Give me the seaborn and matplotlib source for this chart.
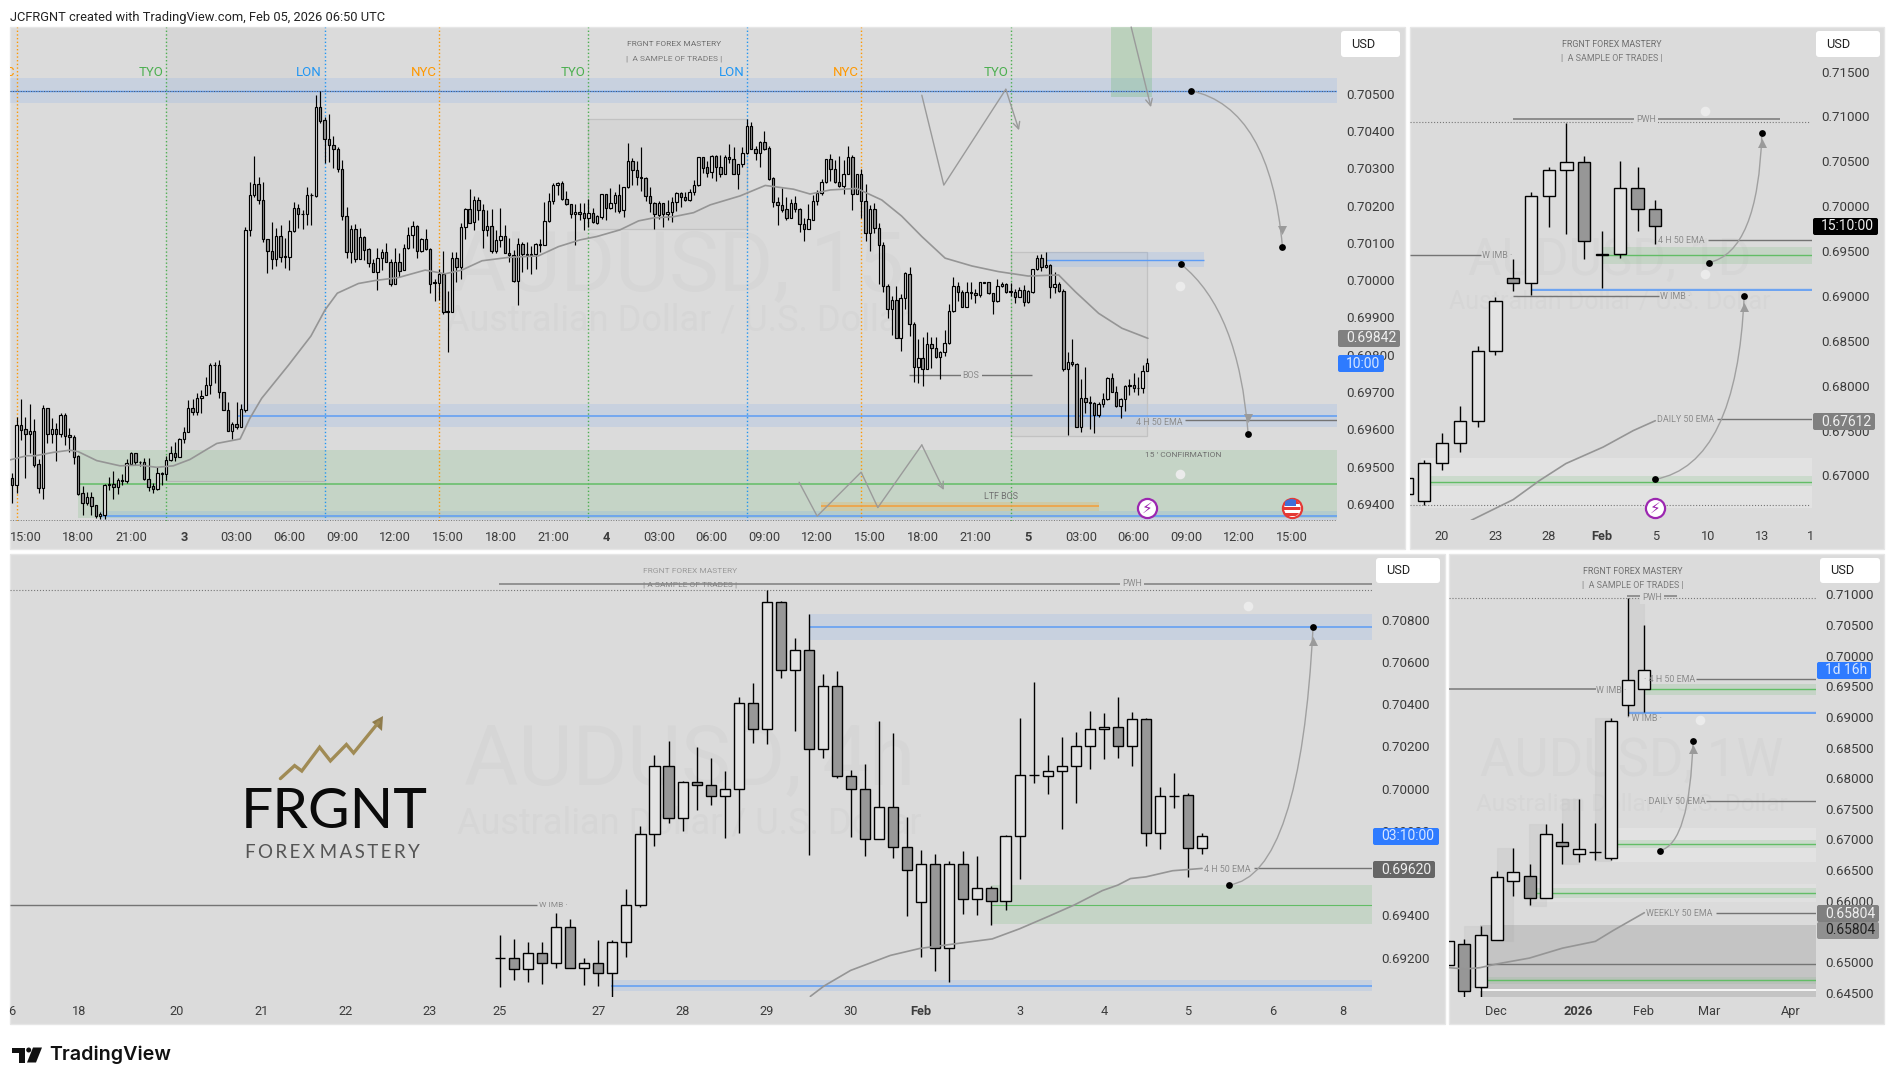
import numpy as np
import matplotlib
matplotlib.use("Agg")
import matplotlib.pyplot as plt
import seaborn as sns
from matplotlib.patches import Rectangle, FancyBboxPatch, PathPatch, Polygon, Circle
from matplotlib.path import Path

# all prices are in pipettes (0.69469 -> 69469), the axes run in that unit

# --- 15 min panel ---
a_open = [
    69469,69451,69612,69600,69587,69595,69507,69443,69656,69587,69600,69587,69638,69584,69578,69528,69428,69403,69418,69396,
    69368,69371,69450,69452,69446,69464,69462,69507,69536,69513,69511,69466,69448,69439,69482,69479,69517,69536,69527,69573,
    69592,69656,69647,69683,69691,69718,69772,69773,69699,69651,69595,69613,69607,69652,70134,70228,70257,70214,70110,70079,
    70056,70118,70065,70061,70131,70193,70177,70178,70228,70226,70464,70429,70378,70362,70351,70297,70173,70075,70137,70058,
    70115,70083,70045,70021,70060,70075,70050,69991,70050,70026,70085,70120,70144,70079,70110,70083,69996,69993,70016,69917,
    69915,70059,70034,70142,70190,70155,70214,70187,70134,70144,70079,70107,70118,70074,70067,69997,70096,70070,70068,70069,
    70096,70093,70158,70211,70254,70260,70217,70203,70177,70184,70179,70166,70179,70154,70170,70230,70193,70206,70228,70187,
    70249,70319,70295,70278,70273,70227,70208,70176,70206,70177,70182,70209,70233,70222,70216,70236,70254,70329,70303,70289,
    70332,70303,70286,70329,70324,70286,70312,70340,70413,70353,70342,70370,70354,70273,70209,70202,70190,70168,70206,70190,
    70150,70138,70161,70211,70233,70262,70324,70297,70264,70253,70286,70329,70232,70284,70213,70127,70190,70139,70093,69983,
    69922,69947,69844,69951,70016,69882,69766,69790,69763,69828,69817,69795,69808,69831,69916,69983,69968,69929,69968,69965,
    69959,69994,69994,69965,69943,69983,69989,69970,69968,69956,69973,69942,69969,70029,70059,70034,70040,69981,69991,69970,
    69763,69781,69774,69607,69683,69674,69671,69639,69667,69680,69738,69701,69663,69680,69716,69718,69710,69710,69755]
a_close = [
    69451,69612,69598,69587,69595,69504,69443,69656,69587,69600,69587,69638,69583,69578,69527,69427,69403,69418,69395,69368,
    69372,69450,69452,69446,69464,69462,69509,69536,69511,69511,69466,69446,69439,69482,69479,69517,69536,69527,69573,69592,
    69656,69647,69683,69690,69718,69772,69773,69699,69651,69595,69613,69607,69654,70134,70228,70257,70214,70110,70079,70056,
    70118,70063,70063,70131,70193,70177,70178,70228,70229,70464,70428,70378,70362,70351,70297,70173,70075,70137,70058,70115,
    70082,70045,70021,70060,70075,70050,69991,70050,70025,70085,70120,70144,70079,70110,70083,69991,69993,70016,69915,69915,
    70059,70034,70142,70190,70154,70214,70187,70134,70144,70079,70107,70118,70074,70067,69997,70096,70069,70068,70070,70096,
    70093,70158,70211,70254,70260,70217,70203,70177,70184,70178,70166,70179,70155,70171,70230,70193,70206,70228,70186,70249,
    70319,70295,70278,70273,70227,70208,70177,70206,70177,70182,70209,70233,70222,70216,70236,70254,70329,70302,70288,70332,
    70303,70286,70329,70324,70286,70312,70340,70413,70353,70342,70371,70353,70271,70209,70202,70189,70168,70206,70190,70150,
    70138,70163,70212,70233,70262,70324,70297,70263,70253,70286,70329,70232,70284,70213,70127,70190,70139,70093,69983,69922,
    69947,69844,69951,70018,69882,69766,69790,69763,69828,69817,69795,69808,69831,69916,69983,69968,69929,69968,69966,69959,
    69994,69993,69965,69943,69983,69989,69969,69968,69956,69974,69942,69971,70029,70059,70034,70040,69981,69991,69970,69763,
    69781,69774,69607,69683,69672,69671,69639,69668,69680,69738,69701,69663,69681,69716,69718,69710,69712,69755,69777]
a_high = [
    69482,69634,69681,69634,69668,69628,69520,69665,69656,69629,69616,69643,69643,69603,69584,69531,69448,69433,69433,69396,
    69379,69452,69471,69488,69469,69480,69520,69538,69536,69516,69522,69522,69457,69498,69486,69528,69555,69565,69576,69607,
    69679,69680,69698,69706,69741,69777,69781,69786,69701,69672,69620,69672,69667,70142,70262,70333,70276,70262,70110,70156,
    70141,70148,70114,70160,70210,70204,70188,70249,70233,70497,70507,70438,70446,70387,70358,70321,70195,70148,70151,70140,
    70118,70085,70058,70085,70084,70099,70057,70085,70072,70097,70142,70159,70148,70112,70136,70085,70003,70030,70078,69971,
    70075,70075,70152,70193,70244,70226,70224,70204,70188,70191,70135,70194,70148,70112,70081,70112,70101,70101,70092,70099,
    70110,70210,70234,70260,70262,70266,70239,70204,70204,70208,70206,70219,70193,70175,70231,70230,70246,70237,70257,70251,
    70367,70327,70320,70356,70278,70251,70210,70213,70206,70215,70224,70236,70237,70237,70244,70269,70331,70331,70320,70335,
    70336,70336,70336,70364,70356,70312,70356,70431,70423,70360,70373,70399,70360,70276,70224,70246,70224,70217,70226,70193,
    70166,70203,70228,70242,70270,70325,70338,70322,70333,70322,70360,70336,70284,70297,70257,70202,70206,70152,70101,69989,
    69958,69985,69963,70023,70034,69889,69841,69848,69860,69847,69848,69811,69866,69936,70008,69996,69974,69995,69994,69976,
    69994,69996,69996,69966,70003,69996,69993,69993,69975,69981,69987,69974,70031,70067,70070,70075,70043,70023,69995,69977,
    69808,69841,69777,69734,69766,69689,69674,69674,69698,69739,69750,69716,69683,69719,69734,69750,69739,69772,69790]
a_low = [
    69401,69428,69570,69469,69536,69500,69430,69414,69564,69564,69515,69580,69558,69540,69507,69424,69370,69396,69370,69361,
    69359,69359,69437,69413,69426,69451,69457,69504,69504,69502,69464,69435,69430,69437,69451,69464,69516,69516,69527,69564,
    69592,69638,69638,69643,69691,69695,69723,69685,69651,69595,69573,69600,69607,69647,70119,70224,70204,70101,70020,70031,
    70039,70050,70033,70027,70130,70141,70136,70149,70149,70224,70421,70315,70316,70300,70291,70160,70059,70047,70050,70058,
    70054,70036,70021,69974,70027,70048,69983,69991,70009,70026,70084,70087,70060,70076,70081,69966,69945,69947,69909,69808,
    69915,69996,70003,70110,70152,70135,70160,70087,70119,70072,70072,70090,70072,70050,69996,69933,70023,70030,70017,70030,
    70076,70093,70157,70204,70228,70215,70202,70168,70095,70160,70135,70142,70154,70151,70164,70161,70191,70184,70181,70170,
    70248,70255,70255,70240,70213,70184,70137,70163,70143,70161,70156,70186,70195,70213,70213,70229,70253,70288,70276,70274,
    70267,70278,70285,70315,70286,70244,70304,70338,70353,70322,70303,70349,70269,70197,70148,70184,70160,70168,70184,70130,
    70106,70137,70160,70202,70228,70260,70267,70261,70249,70231,70285,70188,70232,70166,70106,70079,70126,69990,69969,69898,
    69853,69844,69811,69923,69851,69727,69725,69717,69761,69765,69792,69736,69797,69829,69914,69945,69929,69929,69949,69938,
    69956,69993,69963,69909,69941,69982,69966,69957,69938,69954,69931,69938,69966,70027,70025,70033,69952,69966,69968,69757,
    69585,69770,69607,69594,69645,69600,69589,69634,69661,69679,69701,69661,69631,69650,69691,69701,69691,69698,69755]
a_ema_x = [-0.5,3.3,5.2,9.3,13.1,15,19.2,24.5,29,32.8,36.6,40.4,44.2,46.5,51.8,54,56.7,62.8,
           64.3,67.9,71.1,73.9,78.7,82.5,87.8,93.9,98.4,102.2,106.8,112.8,119.6,124.2,129.1,
           132.9,138.2,142.4,145.8,150.3,154.9,158.7,165.5,171.2,177.6,181.4,186,192,
           197.7,202.2,206.8,212.1,218.2,224.2,231,237.9,241.7,247,252.3,258.2]
a_ema_y = [69518,69529,69529,69538,69544,69540,69516,69502,69504,69498,69502,69519,69546,69562,69574,69629,69683,69772,
           69795,69850,69920,69965,69991,69999,70007,70027,70017,70027,70052,70061,70065,70090,70108,
           70117,70135,70159,70167,70170,70181,70202,70226,70254,70244,70231,70242,70246,
           70215,70172,70117,70059,70038,70023,70011,70014,69969,69911,69871,69844]
a_yticks = [70500,70400,70300,70200,70100,70000,69900,69800,69700,69600,69500,69400]
a_xticks = [3,15,27,39,51,63,75,87,99,111,123,135,147,159,171,183,195,207,219,231,243,255,267,279,291]
a_xlabels = ["15:00","18:00","21:00","3","03:00","06:00","09:00","12:00","15:00","18:00","21:00","4",
             "03:00","06:00","09:00","12:00","15:00","18:00","21:00","5","03:00","06:00","09:00","12:00","15:00"]
session_x = [1,35,71,97,131,167,193,227]
session_names = ["C","TYO","LON","NYC","TYO","LON","NYC","TYO"]
session_kinds = ["NYC","TYO","LON","NYC","TYO","LON","NYC","TYO"]

# --- daily panel ---
d_x = [-1,0,1,2,3,4,5,6,7,8,9,10,11,12,13]
d_open = [66797,66715,67137,67360,67606,68383,69196,69141,70110,70399,70488,69469,69465,70199,69965]
d_high = [66977,67172,67477,67778,68442,68985,69414,70157,70434,70930,70555,69719,70500,70434,70071]
d_low = [66797,66672,67063,67266,67543,68344,69055,69016,69770,69692,69407,69094,69422,69719,69582]
d_close = [66977,67137,67360,67606,68383,68942,69141,70110,70399,70488,69610,69461,70199,69965,69778]
d_ema_x = [2.63,5,6.5,7.97,10.07,11.76,13]
d_ema_y = [66500,66731,66946,67133,67317,67500,67610]
d_yticks = [71500,71000,70500,70000,69500,69000,68500,68000,67500,67000]
d_xticks = [1,4,7,10,13,16,19]
d_xlabels = ["20","23","28","Feb","5","10","13"]

# --- 4 hour panel ---
h_open = [69196,69196,69144,69220,69173,69343,69149,69173,69129,69272,69448,69784,70105,69860,70030,70018,69963,
          70000,70404,70280,70883,70560,70655,70186,70484,70059,69997,69760,69912,69722,69461,69642,69247,69642,
          69475,69527,69466,69774,70063,70059,70081,70105,70201,70280,70290,70204,70328,69789,69966,69968,69718]
h_high = [69307,69288,69272,69272,69409,69381,69196,69283,69283,69524,69821,70159,70225,70034,70198,70144,70083,
          70434,70500,70941,70888,70713,70826,70542,70556,70088,70117,70319,70264,69865,69708,69689,69659,69703,
          69680,69538,69781,70335,70505,70159,70244,70269,70367,70358,70434,70362,70333,70007,70073,69978,69790]
h_low = [69061,69095,69086,69076,69150,69149,69071,69066,69015,69204,69438,69726,69837,69800,69900,69920,69768,
         69792,70217,70212,70524,70275,69687,70146,70052,69773,69682,69760,69672,69398,69204,69137,69086,69407,
         69401,69356,69427,69574,70028,69976,69810,69933,70094,70138,70144,70109,69726,69716,69910,69583,69692]
h_close = [69196,69144,69220,69173,69343,69149,69173,69129,69272,69448,69784,70105,69860,70030,70018,69963,70000,
           70404,70280,70883,70560,70655,70186,70484,70059,69997,69760,69912,69722,69613,69642,69247,69642,69475,
           69527,69466,69774,70063,70063,70081,70105,70201,70280,70290,70204,70328,69789,69963,69963,69718,69774]
h_ema_x = [22.1,23.07,24.97,27.8,29.9,35.05,37,39.1,40.9,42.9,44,44.9,46,47.9,50]
h_ema_y = [69016,69065,69139,69210,69243,69288,69336,69396,69449,69517,69543,69574,69582,69611,69622]
h_yticks = [70800,70600,70400,70200,70000,69800,69600,69400,69200]
h_xticks = [-30,-23,-17,-11,-5,0,7,13,19,25,30,37,43,49,55,60]
h_xlabels = ["18","20","21","22","23","25","27","28","29","30","Feb","3","4","5","6","8"]

# --- weekly panel ---
w_open = [64945,65285,64594,65352,66316,66399,66037,66950,66756,66789,66700,69190,69451]
w_high = [65335,65374,65586,66483,66861,66600,67251,67268,67658,67268,68984,70944,70499]
w_low = [64945,64433,64433,65352,66076,65931,66037,66600,66633,66666,66666,69011,69078]
w_close = [65335,64517,65447,66382,66472,66037,67084,66900,66839,66789,68928,69596,69758]
w_ema_x = [0.06,1.04,1.96,3.02,4.98,7,9.02,10.12,12.02]
w_ema_y = [64906,64884,64906,64968,65062,65224,65335,65514,65803]
w_yticks = [71000,70500,70000,69500,69000,68500,68000,67500,67000,66500,66000,65000,64500]
w_xticks = [2.96,7.98,11.98,16,21]
w_xlabels = ["Dec","2026","Feb","Mar","Apr"]
# ghost boxes behind the weekly candles: left, right, top, bottom
ghost_left = [1,3.02,4.98,7,9.02,11.04]
ghost_right = [1.98,4,6.02,8.04,10,12.02]
ghost_top = [65580,66856,67246,67658,68978,70944]
ghost_bottom = [64594,65335,65920,66594,66655,69050]

BG = "#DBDBDB"
UP = "#E3E3E3"
DOWN = "#979797"
BLUE = "#3F8CFF"
BLUE_LINE = "#5C9CF5"
GREEN = "#4CAF50"
GREEN_LINE = "#62BD66"
NOTE = "#8C8C8C"
LINE = "#747474"
W, H = 1894, 1085

sns.set_theme(style="white", rc={"axes.grid": False, "axes.facecolor": "none"})
plt.rcParams["font.family"] = ["Roboto", "DejaVu Sans"]

fig = plt.figure(figsize=(W / 100, H / 100), dpi=100, facecolor="white")


def make_page(zorder):
    ax = fig.add_axes([0, 0, 1, 1], zorder=zorder)
    ax.set_xlim(0, W)
    ax.set_ylim(H, 0)
    ax.axis("off")
    return ax


page = make_page(0)
over = make_page(5)


def make_panel(box, plot, xlim, ylim, yticks, xticks, xlabels, bold, pad_x=7):
    page.add_patch(Rectangle((box[0], box[1]), box[2] - box[0], box[3] - box[1], fc=BG, ec="#E6E6E6", lw=1))
    ax = fig.add_axes([plot[0] / W, 1 - plot[3] / H, (plot[2] - plot[0]) / W, (plot[3] - plot[1]) / H], zorder=2)
    ax.set_xlim(*xlim)
    ax.set_ylim(*ylim)
    ax.yaxis.tick_right()
    ax.set_yticks(yticks)
    ax.set_yticklabels([f"{t / 1e5:.5f}" for t in yticks])
    ax.set_xticks(xticks)
    ax.set_xticklabels(xlabels)
    ax.tick_params(axis="y", length=0, pad=6.5, labelsize=9.6, labelcolor="#3C3C3C")
    ax.tick_params(axis="x", length=0, pad=pad_x, labelsize=9.2, labelcolor="#3C3C3C")
    for lab in ax.get_xticklabels():
        if lab.get_text() in bold:
            lab.set_fontweight("bold")
    for s in ax.spines.values():
        s.set_visible(False)
    return ax


def candles(ax, x, o, h, l, c, width, lw=1.0):
    x, o, h, l, c = map(np.asarray, (x, o, h, l, c))
    ax.vlines(x, l, h, color="black", lw=lw, zorder=4)
    colors = np.where(c >= o, UP, DOWN)
    ax.bar(x, np.abs(c - o), bottom=np.minimum(o, c), width=width, color=colors, edgecolor="black", linewidth=lw, zorder=5)


def ema(ax, x, y):
    sns.lineplot(x=x, y=y, ax=ax, color="#959595", lw=1.2, sort=False, errorbar=None, legend=False, zorder=6)


def zone(ax, x0, x1, p0, p1, color, alpha):
    ax.add_patch(Rectangle((x0, p0), x1 - x0, p1 - p0, fc=color, ec="none", alpha=alpha, zorder=1))


def level(ax, x0, x1, p, color=LINE, lw=1.0, ls="-"):
    ax.hlines(p, x0, x1, color=color, lw=lw, ls=ls, zorder=3)


def note(ax, x, p, text, color=NOTE, size=6.4, box=False):
    kw = {"bbox": dict(fc=BG, ec="none", pad=1.5)} if box else {}
    ax.text(x, p, text, color=color, fontsize=size, ha="center", va="center", zorder=7, **kw)


def mark(ax, x, p):
    ax.scatter([x], [p], s=24, color="black", zorder=9, linewidths=0)


def arc(ax, start, ctrl, end, head):
    path = Path([start, ctrl, end], [Path.MOVETO, Path.CURVE3, Path.CURVE3])
    ax.add_patch(PathPatch(path, fc="none", ec="#A0A0A0", lw=1.0, zorder=7))
    ax.scatter([end[0]], [head], s=42, marker="v" if head > end[1] else "^", color="#9A9A9A", linewidths=0, zorder=8)
    mark(ax, *start)
    mark(ax, *end)


def clock(ax, x, p):
    ax.scatter([x], [p], s=48, color="#EBEBEB", linewidths=0, zorder=7)


def bolt(ax, x, p):
    ax.scatter([x], [p], s=190, color="white", edgecolor="#9C27B0", linewidths=1.6, zorder=9)
    ax.text(x, p, "\u26a1", family="DejaVu Sans", color="#9C27B0", fontsize=11, ha="center", va="center", zorder=10)


def zigzag(ax, xs, ps):
    ax.plot(xs[:-1], ps[:-1], color="#9A9A9A", lw=1.0, zorder=6)
    ax.annotate("", xy=(xs[-1], ps[-1]), xytext=(xs[-2], ps[-2]), zorder=6,
                arrowprops=dict(arrowstyle="->", color="#9A9A9A", lw=1.0, shrinkA=0, shrinkB=0))


def watermark(ax, x, p1, p2, title, size1=60, size2=25):
    ax.text(x, p1, title, color="#D6D6D6", fontsize=size1, ha="center", va="center", zorder=0, clip_on=True)
    ax.text(x, p2, "Australian Dollar / U.S. Dollar", color="#D6D6D6", fontsize=size2, ha="center", va="center", zorder=0, clip_on=True)


def tag(x0, y0, x1, y1, color, text, tcolor):
    over.add_patch(FancyBboxPatch((x0 + 2, y0 + 2), x1 - x0 - 4, y1 - y0 - 4, boxstyle="round,pad=2", fc=color, ec="none"))
    over.text(x0 + 8, (y0 + y1) / 2, text, color=tcolor, fontsize=10, va="center", ha="left")


def usd(x0, y0, x1, y1):
    over.add_patch(FancyBboxPatch((x0 + 3, y0 + 3), x1 - x0 - 6, y1 - y0 - 6, boxstyle="round,pad=3", fc="white", ec="none"))
    over.text(x0 + 10, (y0 + y1) / 2, "USD", color="#222222", fontsize=9.2, va="center", ha="left")


# page furniture
page.text(10, 17, "JCFRGNT created with TradingView.com, Feb 05, 2026 06:50 UTC", fontsize=9.25, color="#222222", va="center")

# ---- 15 min ----
ax_a = make_panel((10, 27, 1405, 549), (10, 27, 1337, 521), (-0.52, 301.2), (69354, 70679), a_yticks, a_xticks, a_xlabels, ("3", "4", "5"), 7.5)
watermark(ax_a, 151.4, 70035, 69893, "AUDUSD, 15", 60, 26)
zone(ax_a, -0.52, 301.2, 70475, 70542, BLUE, 0.12)
level(ax_a, -0.52, 301.2, 70506, BLUE_LINE)
level(ax_a, -0.52, 301.2, 70506, "#555555", 0.7, ":")
zone(ax_a, 52, 301.2, 69607, 69668, BLUE, 0.12)
level(ax_a, 51, 301.2, 69635, BLUE_LINE, 1.1)
zone(ax_a, 15, 301.2, 69363, 69544, GREEN, 0.15)
level(ax_a, 15, 301.2, 69452, GREEN_LINE, 1.1)
zone(ax_a, 20, 301.2, 69357, 69382, BLUE, 0.12)
level(ax_a, 20, 301.2, 69367, BLUE_LINE, 1.1)
level(ax_a, -0.52, 301.2, 69356, "#777777", 0.7, ":")
zone(ax_a, 35, 71, 69462, 70679, "#707070", 0.04)
level(ax_a, 35, 71, 69462, "#B5B5B5", 0.8)
for left, width, bottom, height in [(131, 36, 70136, 295), (227, 31, 69583, 492)]:
    zone(ax_a, left, left + width, bottom, bottom + height, "#707070", 0.05)
    ax_a.add_patch(Rectangle((left, bottom), width, height, fc="none", ec="#C2C2C2", lw=0.9, zorder=1))
zone(ax_a, 235, 271, 70035, 70075, BLUE, 0.12)
level(ax_a, 235, 271, 70054, BLUE_LINE, 1.0)
zone(ax_a, 249.8, 259.2, 70490, 70679, GREEN, 0.22)
zone(ax_a, 183.9, 247.1, 69381, 69405, "#FF9800", 0.16)
level(ax_a, 183.9, 247.1, 69393, "#F0A040", 1.2)
session_colors = {"TYO": GREEN, "LON": "#2196F3", "NYC": "#FF9800"}
for x, name, kind in zip(session_x, session_names, session_kinds):
    ax_a.axvline(x, color=session_colors[kind], lw=1.0, ls=":", zorder=2)
    ax_a.text(x - 0.6, 70558, name, color=session_colors[kind], fontsize=9.5, ha="right", va="center", clip_on=True, zorder=3)
candles(ax_a, range(len(a_open)), a_open, a_high, a_low, a_close, 0.55, 0.85)
ema(ax_a, a_ema_x, a_ema_y)
note(ax_a, 150.5, 70633, "FRGNT FOREX MASTERY", "#6E6E6E", 6.0)
note(ax_a, 150.5, 70595, "|  A SAMPLE OF TRADES |", "#7A7A7A", 6.0)
level(ax_a, 203.9, 231.8, 69745)
note(ax_a, 218, 69745, "BOS", box=True)
level(ax_a, 266.6, 301.2, 69625)
note(ax_a, 260.7, 69618, "4 H 50 EMA")
note(ax_a, 266.3, 69531, "15 ' CONFIRMATION", "#707070", 6.0)
note(ax_a, 224.8, 69421, "LTF BOS", "#707070")
zigzag(ax_a, [206.8, 211.8, 225.9, 228.9], [70496, 70255, 70512, 70402])
zigzag(ax_a, [254.4, 258.9], [70679, 70464])
zigzag(ax_a, [178.9, 183, 193, 196.8, 206.8, 211.8], [69458, 69367, 69485, 69390, 69558, 69437])
arc(ax_a, (268, 70508), (286, 70463), (288.8, 70089), 70135)
arc(ax_a, (265.7, 70043), (278.9, 69919), (281, 69587), 69630)
clock(ax_a, 265.4, 69984)
clock(ax_a, 265.4, 69481)
bolt(ax_a, 258, 69389)
ax_a.scatter([290.9], [69389], s=190, color="white", edgecolor="#E53935", linewidths=1.6, zorder=9)
flag = Circle((1291.5, 508), 9, transform=over.transData)
for y0, c0, x0, w0 in [(501, "#E53935", 1281, 22), (507, "#E53935", 1281, 22), (513, "#E53935", 1281, 22), (499, "#3F6FD8", 1285, 11)]:
    r = Rectangle((x0, y0), w0, 3 if c0 != "#3F6FD8" else 7, fc=c0, ec="none")
    over.add_patch(r)
    r.set_clip_path(flag)
usd(1341, 31, 1400, 57)
tag(1338, 330, 1400, 347, "#808080", "0.69842", "#EFEFEF")
tag(1338, 355, 1384, 372, "#2E7BFF", "10:00", "#D6E6FF")

# ---- daily ----
ax_b = make_panel((1410, 27, 1884, 549), (1410, 27, 1812, 520), (-0.807, 21.82), (66504, 71996), d_yticks, d_xticks, d_xlabels, ("Feb",), 7.5)
watermark(ax_b, 10.45, 69387, 68938, "AUDUSD, 1D", 37, 18)
level(ax_b, -0.807, 21.7, 70934, "#777777", 0.8, ":")
level(ax_b, -0.807, 21.7, 66668, "#777777", 0.8, ":")
zone(ax_b, 10.02, 21.82, 69360, 69547, GREEN, 0.15)
level(ax_b, 10.02, 21.82, 69453, GREEN_LINE)
zone(ax_b, 6.02, 21.82, 69055, 69085, BLUE, 0.12)
level(ax_b, 6.02, 21.82, 69063, BLUE_LINE, 1.2)
zone(ax_b, -0.2, 21.82, 66633, 67200, "white", 0.2)
zone(ax_b, -0.2, 21.82, 66883, 66997, GREEN, 0.15)
level(ax_b, -0.05, 21.82, 66922, GREEN_LINE)
candles(ax_b, d_x, d_open, d_high, d_low, d_close, 0.69)
ema(ax_b, d_ema_x, d_ema_y)
note(ax_b, 10.54, 71805, "FRGNT FOREX MASTERY", "#6E6E6E", 6.4)
note(ax_b, 10.54, 71649, "|  A SAMPLE OF TRADES |", "#7A7A7A", 6.4)
level(ax_b, 4.97, 20.02, 70970, "#8C8C8C", 1.4)
note(ax_b, 12.46, 70965, "PWH", box=True)
level(ax_b, -0.807, 3.17, 69453)
note(ax_b, 4.1, 69445, "W IMB \u00b7")
level(ax_b, 4.97, 13.19, 68996)
note(ax_b, 14.1, 68990, "W IMB \u00b7")
level(ax_b, 15.95, 21.82, 69621)
note(ax_b, 14.46, 69621, "4 H 50 EMA")
level(ax_b, 16.45, 21.82, 67629)
note(ax_b, 14.73, 67629, "DAILY 50 EMA")
arc(ax_b, (16, 69371), (18.8, 69485), (19, 70813), 70700)
arc(ax_b, (13, 66957), (17.6, 67125), (18, 68996), 68880)
clock(ax_b, 15.8, 71055)
clock(ax_b, 15.8, 69243)
bolt(ax_b, 13, 66637)
usd(1816, 31, 1880, 57)
tag(1813, 218, 1878, 235, "black", "15:10:00", "#EDEDED")
tag(1813, 413, 1875, 430, "#808080", "0.67612", "#EFEFEF")

# ---- 4 hour ----
ax_c = make_panel((10, 554, 1445, 1024), (10, 554, 1372, 997), (-34.9, 62.1), (69013, 71111), h_yticks, h_xticks, h_xlabels, ("Feb",), 6)
watermark(ax_c, 13.5, 70128, 69837, "AUDUSD, 4h", 60, 26)
level(ax_c, -34.9, 62.1, 70939, "#777777", 0.8, ":")
zone(ax_c, 22, 62.1, 70703, 70826, BLUE, 0.12)
level(ax_c, 22, 62.1, 70763, BLUE_LINE, 1.1)
zone(ax_c, 7.9, 62.1, 69041, 69094, BLUE, 0.12)
level(ax_c, 7.9, 62.1, 69063, BLUE_LINE, 1.1)
zone(ax_c, 35, 62.1, 69360, 69543, GREEN, 0.15)
level(ax_c, 35, 62.1, 69451, GREEN_LINE, 0.8)
candles(ax_c, range(len(h_open)), h_open, h_high, h_low, h_close, 0.72)
ema(ax_c, h_ema_x, h_ema_y)
note(ax_c, 13.54, 71030, "FRGNT FOREX MASTERY", "#9A9A9A", 6.0)
level(ax_c, -0.1, 62.1, 70970, "#8C8C8C", 1.3)
note(ax_c, 13.54, 70964, "| A SAMPLE OF TRADES |", "#858585", 6.0)
note(ax_c, 45, 70972, "PWH", box=True)
level(ax_c, -34.9, 2.6, 69451)
note(ax_c, 3.82, 69449, "W IMB \u00b7", size=6.0)
level(ax_c, 53.7, 62.1, 69622)
note(ax_c, 51.8, 69619, "4 H 50 EMA")
arc(ax_c, (51.9, 69543), (57, 69587), (57.9, 70763), 70700)
clock(ax_c, 53.3, 70867)
usd(1376, 558, 1440, 583)
tag(1373, 828, 1439, 845, "#2E7BFF", "03:10:00", "#D6E6FF")
tag(1373, 861, 1435, 878, "#666666", "0.69620", "#EFEFEF")

# ---- weekly ----
ax_d = make_panel((1449, 554, 1884, 1024), (1449, 554, 1816, 997), (0.06, 22.53), (64427, 71659), w_yticks, w_xticks, w_xlabels, ("2026",), 6)
watermark(ax_d, 11.24, 68271, 67574, "AUDUSD, 1W", 38, 17.5)
level(ax_d, 0.06, 22.53, 70933, "#777777", 0.8, ":")
zone(ax_d, 12.06, 22.53, 69357, 69535, GREEN, 0.15)
level(ax_d, 12.06, 22.53, 69451, GREEN_LINE)
zone(ax_d, 11.04, 22.53, 69045, 69090, BLUE, 0.12)
level(ax_d, 11.04, 22.53, 69056, BLUE_LINE, 1.2)
zone(ax_d, 10.02, 22.53, 66639, 67184, "white", 0.2)
zone(ax_d, 10.02, 22.53, 66861, 66984, GREEN, 0.15)
level(ax_d, 10.02, 22.53, 66917, GREEN_LINE)
zone(ax_d, 4.98, 22.53, 65976, 66277, "white", 0.15)
zone(ax_d, 4.98, 22.53, 66043, 66199, GREEN, 0.15)
level(ax_d, 4.98, 22.53, 66121, GREEN_LINE)
zone(ax_d, 1.96, 22.53, 64427, 65597, "black", 0.1)
level(ax_d, 1.96, 22.53, 64962)
zone(ax_d, 1.96, 22.53, 64640, 64761, GREEN, 0.1)
level(ax_d, 1.96, 22.53, 64700, GREEN_LINE)
level(ax_d, 1.96, 22.53, 64544, "white", 1.2)
for x0, x1, t, b in zip(ghost_left, ghost_right, ghost_top, ghost_bottom):
    ax_d.add_patch(Rectangle((x0, b), x1 - x0, t - b, fc="#9A9A9A", ec="#B0B0B0", lw=0.9, alpha=0.13, zorder=3))
candles(ax_d, range(len(w_open)), w_open, w_high, w_low, w_close, 0.75)
ema(ax_d, w_ema_x, w_ema_y)
note(ax_d, 11.3, 71379, "FRGNT FOREX MASTERY", "#6E6E6E", 6.4)
note(ax_d, 11.3, 71150, "|  A SAMPLE OF TRADES |", "#7A7A7A", 6.4)
level(ax_d, 10.98, 14.04, 70972, "#8C8C8C", 1.3)
note(ax_d, 12.49, 70950, "PWH", box=True)
level(ax_d, 0.06, 9.04, 69451, "#808080", 1.2)
note(ax_d, 10.02, 69435, "W IMB \u00b7")
level(ax_d, 15.2, 22.53, 69613)
note(ax_d, 13.59, 69613, "\u00b7 4 H 50 EMA")
note(ax_d, 12, 68978, "\u00b7 W IMB \u00b7")
level(ax_d, 15.82, 22.53, 67619)
note(ax_d, 13.9, 67619, "\u00b7 DAILY 50 EMA")
level(ax_d, 16.4, 22.53, 65792)
note(ax_d, 14.18, 65792, "WEEKLY 50 EMA")
arc(ax_d, (12.98, 66817), (14.8, 66934), (15, 68605), 68480)
clock(ax_d, 15.4, 68956)
usd(1820, 558, 1880, 583)
tag(1817, 662, 1871, 679, "#2E7BFF", "1d 16h", "#D6E6FF")
tag(1817, 905, 1879, 922, "#808080", "0.65804", "#EFEFEF")
tag(1817, 922, 1879, 939, "#909090", "0.65804", "#222222")

# labels cut by the panel edges in the original
over.text(1810, 537, "1", fontsize=9.2, color="#3C3C3C", ha="center", va="center")
over.text(12, 1011.6, "6", fontsize=9.2, color="#3C3C3C", ha="center", va="center")

# FRGNT logo
arrow_x = [280.4, 294.6, 301.8, 319.6, 330.4, 346.4, 353.6, 378.6]
arrow_y = [778.6, 765.6, 771, 747.2, 760.9, 744.5, 753, 722.3]
over.plot(arrow_x, arrow_y, color="#A08B55", lw=2.4, solid_joinstyle="miter")
over.add_patch(Polygon([(383, 716), (372, 722), (382, 731)], fc="#8F7C4C", ec="none"))
over.text(334.5, 813, "FRGNT", family="Lato", fontsize=41, color="#0A0A0A", ha="center", va="center")
over.text(332, 852, "F\u2009O\u2009R\u2009E\u2009X\u2009\u2009M\u2009A\u2009S\u2009T\u2009E\u2009R\u2009Y", family="Lato", fontsize=13.5, color="#555555", ha="center", va="center")

# TradingView mark
over.add_patch(Polygon([(12, 1047.5), (25, 1047.5), (25, 1062.5), (19, 1062.5), (19, 1052.5), (12, 1052.5)], fc="#111111", ec="none"))
over.add_patch(Circle((28.7, 1050), 2.5, fc="#111111", ec="none"))
over.add_patch(Polygon([(33, 1047.5), (42, 1047.5), (36, 1062.5), (27, 1062.5)], fc="#111111", ec="none"))
over.text(49, 1054.5, "TradingView", family="Inter", fontsize=14.2, fontweight="semibold", color="#111111", va="center", ha="left")

fig.savefig("out.png", dpi=100, facecolor="white")
